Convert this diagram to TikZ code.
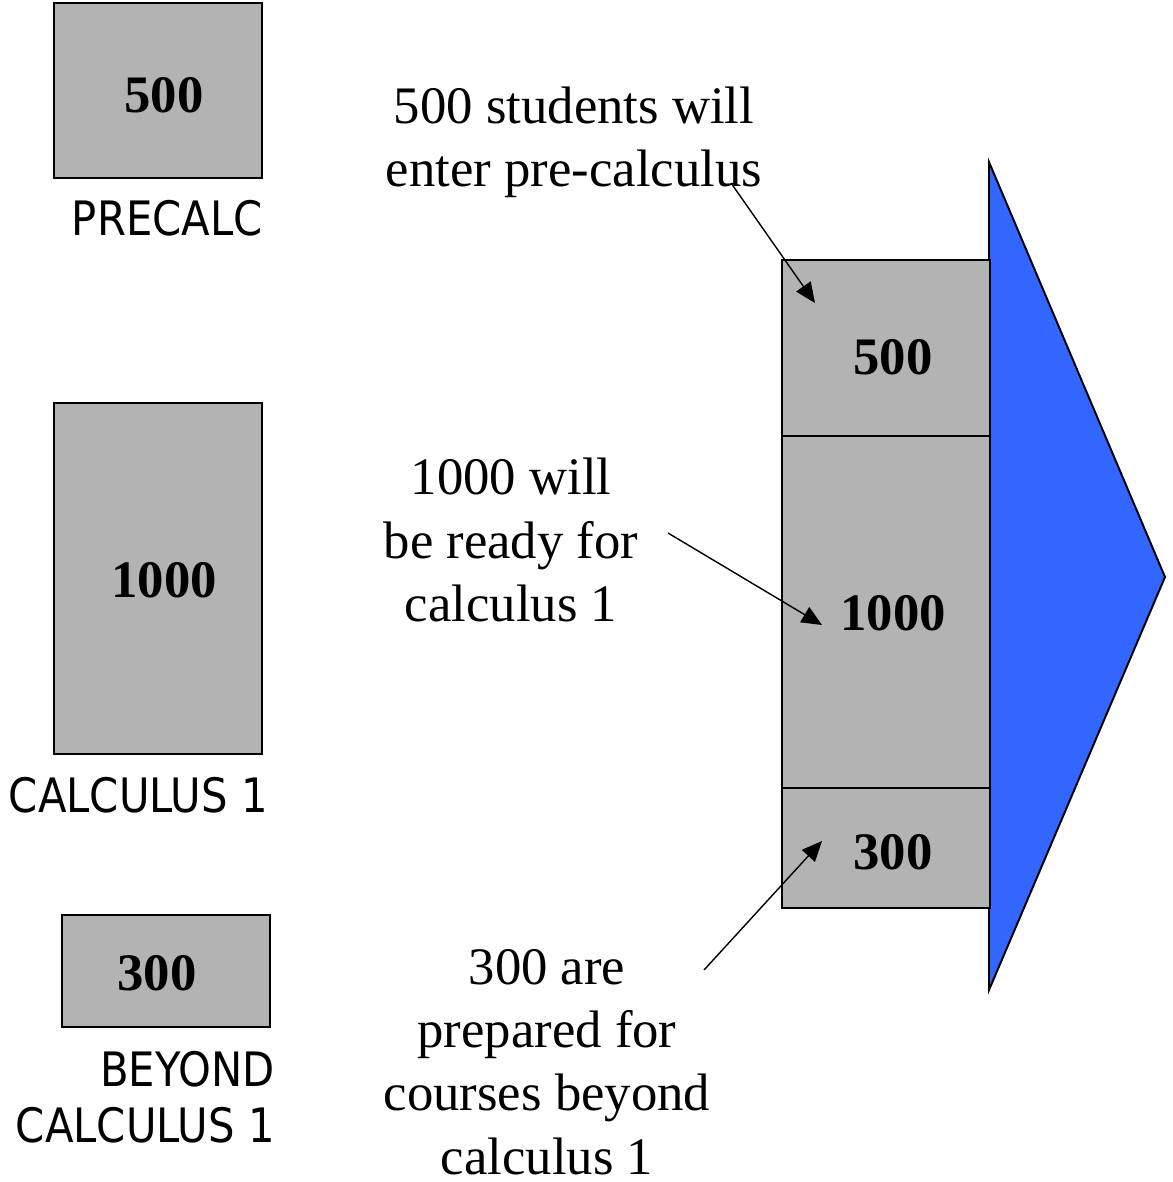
\documentclass[tikz,border=0pt]{standalone}
\usepackage{fontspec}
\setmainfont{Liberation Serif}
\newfontfamily\labelfont[FakeStretch=0.88]{DejaVu Sans}
\usetikzlibrary{arrows.meta}
\definecolor{boxgray}{HTML}{B3B3B3}
\definecolor{flowblue}{HTML}{3366FF}

\tikzset{
    box/.style={draw, fill=boxgray, line width=1.1pt, inner sep=0pt,
        minimum width=4.16cm, anchor=north west},
    count/.style={font=\fontsize{30}{36}\selectfont\bfseries, inner sep=0pt},
    course/.style={font=\labelfont\fontsize{27}{32}\selectfont, align=right,
        inner sep=0pt, anchor=east},
    note/.style={font=\fontsize{30}{36}\selectfont, align=center, inner sep=0pt},
    pointer/.style={-{Triangle[length=11.5pt, width=10pt]}, line width=0.8pt}
}

\begin{document}
\begin{tikzpicture}[x=0.02cm, y=-0.02cm]
    \useasboundingbox (0,0) rectangle (1172,1182);
    % left column
    \node[box, minimum height=3.5cm] (precalc-box) at (53,2) {};
    \node[count] (precalc-count) at (164,95) {500};
    \node[course] (precalc-label) at (263,218) {PRECALC};
    \node[box, minimum height=7.02cm] (calc-box) at (53,402) {};
    \node[count] (calc-count) at (164,580) {1000};
    \node[course] (calc-label) at (268,795) {CALCULUS 1};
    \node[box, minimum height=2.24cm] (beyond-box) at (61,914) {};
    \node[count] (beyond-count) at (157,973) {300};
    \node[course] (beyond-label) at (275,1097) {BEYOND\\CALCULUS 1};
    % right stack
    \draw[fill=flowblue, line width=1.1pt] (989,162) -- (1165,577) -- (989,990) -- cycle;
    \node[box, minimum height=3.52cm] (stack-pre) at (781,259) {};
    \node[count] (stack-pre-count) at (893,357) {500};
    \node[box, minimum height=7.04cm] (stack-calc) at (781,435) {};
    \node[count] (stack-calc-count) at (893,613) {1000};
    \node[box, minimum height=2.4cm] (stack-beyond) at (781,787) {};
    \node[count] (stack-beyond-count) at (893,852) {300};
    % notes
    \node[note] (note-pre) at (574,142) {500 students will\\enter pre-calculus};
    \node[note] (note-calc) at (511,540) {1000 will\\be ready for\\calculus 1};
    \node[note] (note-beyond) at (547,1062) {300 are\\prepared for\\courses beyond\\calculus 1};
    \coordinate (pre-tail) at (731,183);
    \coordinate (pre-tip) at (815,303);
    \coordinate (calc-tail) at (668,533);
    \coordinate (calc-tip) at (822,625);
    \coordinate (beyond-tail) at (704,970);
    \coordinate (beyond-tip) at (822,841);
    \draw[pointer] (pre-tail) -- (pre-tip);
    \draw[pointer] (calc-tail) -- (calc-tip);
    \draw[pointer] (beyond-tail) -- (beyond-tip);
\end{tikzpicture}
\end{document}
